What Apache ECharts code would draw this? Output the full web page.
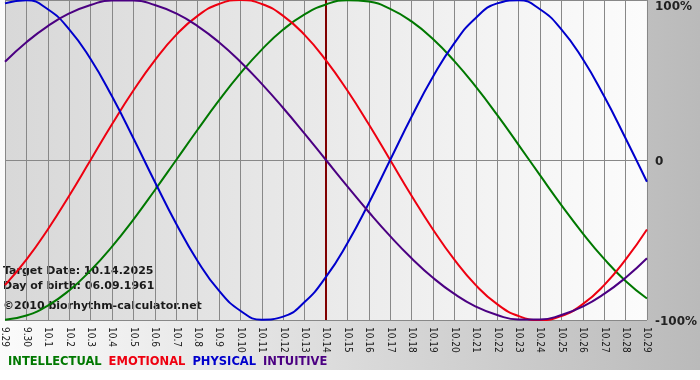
<!DOCTYPE html>
<html>
<head>
<meta charset="utf-8">
<script src="https://cdn.jsdelivr.net/npm/echarts@6/dist/echarts.min.js"></script>
<style>
html,body{margin:0;padding:0;background:#fff;}
#chart{width:700px;height:380px;}
</style>
</head>
<body>
<div id="chart"></div>
<script>
var days = ['9.29','9.30','10.1','10.2','10.3','10.4','10.5','10.6','10.7','10.8','10.9','10.10','10.11','10.12','10.13','10.14','10.15','10.16','10.17','10.18','10.19','10.20','10.21','10.22','10.23','10.24','10.25','10.26','10.27','10.28','10.29'];
var intellectual = [-0.999,-0.972,-0.910,-0.815,-0.690,-0.541,-0.372,-0.189,0,0.189,0.372,0.541,0.690,0.815,0.910,0.972,0.999,0.990,0.945,0.866,0.756,0.618,0.458,0.282,0.095,-0.095,-0.282,-0.458,-0.618,-0.756,-0.866];
var emotional = [-0.782,-0.623,-0.434,-0.223,0,0.223,0.434,0.623,0.782,0.901,0.975,1,0.975,0.901,0.782,0.623,0.434,0.223,0,-0.223,-0.434,-0.623,-0.782,-0.901,-0.975,-1,-0.975,-0.901,-0.782,-0.623,-0.434];
var physical = [0.979,0.998,0.942,0.817,0.631,0.398,0.136,-0.136,-0.398,-0.631,-0.817,-0.942,-0.998,-0.979,-0.888,-0.731,-0.520,-0.270,0,0.270,0.520,0.731,0.888,0.979,0.998,0.942,0.817,0.631,0.398,0.136,-0.136];
var intuitive = [0.614,0.736,0.837,0.916,0.969,0.997,0.997,0.969,0.916,0.837,0.736,0.614,0.476,0.325,0.165,0,-0.165,-0.325,-0.476,-0.614,-0.736,-0.837,-0.916,-0.969,-0.997,-0.997,-0.969,-0.916,-0.837,-0.736,-0.614];
var yTickLabels = {'1':'100%','0':'0','-1':'-100%'};
var targetDay = '10.14';
var seriesNames = ['INTELLECTUAL','EMOTIONAL','PHYSICAL','INTUITIVE'];
var seriesColors = ['#007800','#ee0010','#0000cc','#4b0082'];
var infoLines = ['Target Date: 10.14.2025','Day of birth: 06.09.1961','\u00a92010 biorhythm-calculator.net'];

var chart = echarts.init(document.getElementById('chart'), null, {renderer:'canvas'});
var dataSets = [intellectual, emotional, physical, intuitive];
var series = seriesNames.map(function(n, k){
  var s = {
    name: n, type: 'line', data: dataSets[k], smooth: true, showSymbol: false,
    lineStyle: {width: 2, color: seriesColors[k]}, itemStyle: {color: seriesColors[k]},
    z: 3
  };
  if (k === 0) {
    s.markLine = {
      silent: true, symbol: ['none','none'], label: {show: false},
      lineStyle: {color: '#800000', width: 2, type: 'solid'},
      data: [{xAxis: targetDay}], z: 2
    };
  }
  return s;
});
var font = 'DejaVu Sans, Verdana, sans-serif';
var labelRich = {
  top:{padding:[14,0,0,0], fontFamily:font, fontWeight:'bold', fontSize:12, color:'#222'},
  low:{padding:[4,0,0,0], fontFamily:font, fontWeight:'bold', fontSize:12, color:'#222'}
};
chart.setOption({
  animation: false,
  backgroundColor: 'transparent',
  graphic: [
    {type:'rect', z:-100, silent:true, shape:{x:0,y:0,width:700,height:370},
     style:{fill:new echarts.graphic.LinearGradient(0,0,1,0,[{offset:0,color:'#fbfbfb'},{offset:1,color:'#bababa'}])}},
    {type:'text', left:3, top:266, silent:true, style:{text:infoLines[0], font:'bold 11px '+font, fill:'#1a1a1a'}},
    {type:'text', left:3, top:281, silent:true, style:{text:infoLines[1], font:'bold 11px '+font, fill:'#1a1a1a'}},
    {type:'text', left:3, top:301, silent:true, style:{text:infoLines[2], font:'bold 11px '+font, fill:'#1a1a1a'}}
  ],
  grid: {left:0, top:0, width:650, height:320, show:true, borderWidth:0,
    backgroundColor: new echarts.graphic.LinearGradient(0,0,1,0,[{offset:0,color:'#d8d8d8'},{offset:1,color:'#fcfcfc'}])},
  legend: {
    left: -2, top: 351, itemWidth: 0, itemHeight: 0, itemGap: 2, icon: 'rect',
    itemStyle: {opacity: 0}, lineStyle: {opacity: 0},
    selectedMode: false,
    data: seriesNames.map(function(n,k){ return {name:n, textStyle:{color:seriesColors[k]}}; }),
    textStyle: {fontFamily: font, fontWeight:'bold', fontSize: 11.5}
  },
  xAxis: {
    type:'category', data: days, boundaryGap:false,
    axisLine:{show:false},
    axisTick:{show:true, length:3, interval:0, lineStyle:{color:'#888'}},
    axisLabel:{interval:0, rotate:-90, margin:7, fontSize:10, color:'#1a1a1a',
      fontFamily:'Liberation Sans Narrow, DejaVu Sans Condensed, sans-serif'},
    splitLine:{show:true, interval:0, lineStyle:{color:'#888', width:1}}
  },
  yAxis: {
    type:'value', position:'right', min:-1, max:1, interval:1,
    axisLine:{show:false}, axisTick:{show:false},
    splitLine:{show:true, lineStyle:{color:'#888', width:1}},
    axisLabel:{margin:8, fontFamily:font, fontWeight:'bold', fontSize:12, color:'#222',
      formatter:function(v){ var t = yTickLabels[String(v)]; return v === 1 ? '{top|'+t+'}' : '{low|'+t+'}'; },
      rich: labelRich}
  },
  series: series
});
</script>
</body>
</html>
